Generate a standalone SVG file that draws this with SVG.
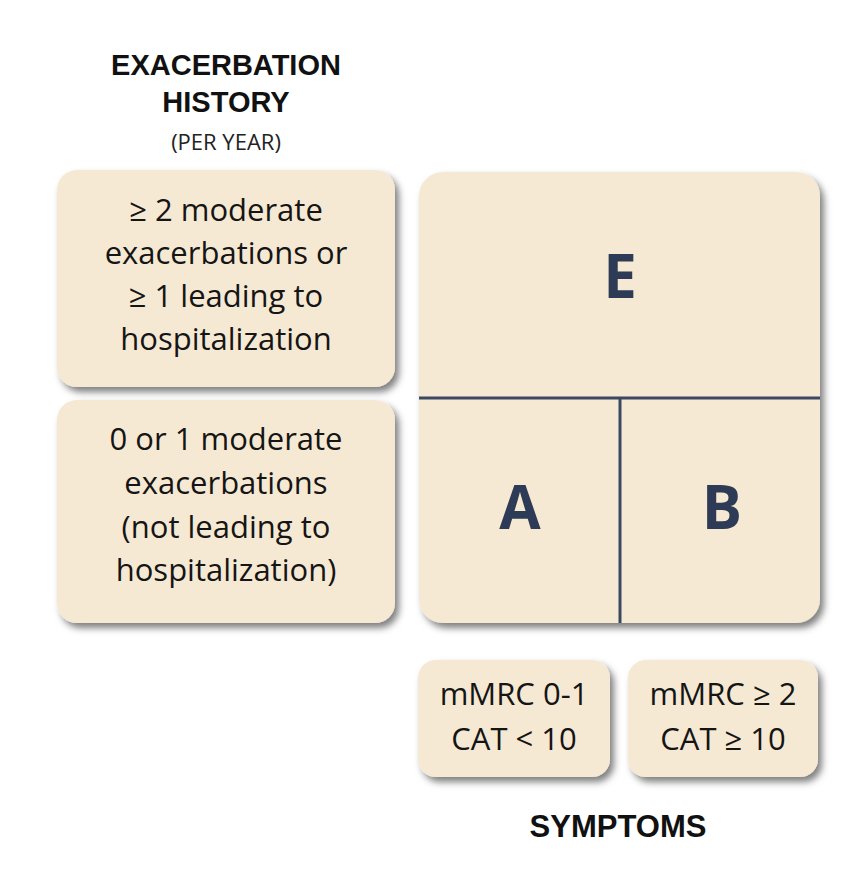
<svg xmlns="http://www.w3.org/2000/svg" width="868" height="880" viewBox="0 0 868 880">
  <defs>
    <filter id="shadow" x="-10%" y="-10%" width="125%" height="130%">
      <feDropShadow dx="4" dy="5" stdDeviation="3.5" flood-color="#000" flood-opacity="0.5"/>
    </filter>
  </defs>
  <style>
    .box { fill: #f6e9d3; filter: url(#shadow); }
    .txt { font-family: "Open Sans", "Liberation Sans", sans-serif; font-size: 31px; fill: #151515; text-anchor: middle; }
    .head { font-family: "Liberation Sans", Arial, sans-serif; font-size: 29px; font-weight: bold; fill: #111; text-anchor: middle; }
    .sub { font-family: "Open Sans", "Liberation Sans", sans-serif; font-size: 22px; fill: #222; text-anchor: middle; }
    .letter { font-family: "Open Sans", "Liberation Sans", sans-serif; font-size: 60px; font-weight: bold; fill: #2e3b56; text-anchor: middle; }
    .div { stroke: #3b4862; stroke-width: 3; fill: none; }
  </style>
  <rect width="868" height="880" fill="#ffffff"/>

  <g id="title-exacerbation">
    <text class="head" x="226" y="75">EXACERBATION</text>
    <text class="head" x="226" y="112">HISTORY</text>
    <text class="sub" x="226" y="150">(PER YEAR)</text>
  </g>

  <g id="node-high-risk">
    <rect class="box" x="57" y="170" width="338" height="217" rx="20"/>
    <text class="txt" x="226" y="221">≥ 2 moderate</text>
    <text class="txt" x="226" y="264">exacerbations or</text>
    <text class="txt" x="226" y="307">≥ 1 leading to</text>
    <text class="txt" x="226" y="350">hospitalization</text>
  </g>

  <g id="node-low-risk">
    <rect class="box" x="57" y="400" width="338" height="223" rx="20"/>
    <text class="txt" x="226" y="450">0 or 1 moderate</text>
    <text class="txt" x="226" y="494">exacerbations</text>
    <text class="txt" x="226" y="538">(not leading to</text>
    <text class="txt" x="226" y="581">hospitalization)</text>
  </g>

  <g id="node-grid">
    <rect class="box" x="419" y="172" width="401" height="451" rx="24"/>
    <line class="div" x1="419" y1="398" x2="820" y2="398"/>
    <line class="div" x1="620" y1="398" x2="620" y2="623"/>
  </g>

  <g id="node-E">
    <text class="letter" x="620" y="298">E</text>
  </g>
  <g id="node-A">
    <text class="letter" x="520" y="529">A</text>
  </g>
  <g id="node-B">
    <text class="letter" x="722" y="529">B</text>
  </g>

  <g id="node-symptoms-low">
    <rect class="box" x="418" y="660" width="192" height="117" rx="18"/>
    <text class="txt" x="514" y="705">mMRC 0-1</text>
    <text class="txt" x="514" y="750">CAT &lt; 10</text>
  </g>

  <g id="node-symptoms-high">
    <rect class="box" x="628" y="660" width="190" height="117" rx="18"/>
    <text class="txt" x="723" y="705">mMRC ≥ 2</text>
    <text class="txt" x="723" y="750">CAT ≥ 10</text>
  </g>

  <g id="title-symptoms">
    <text class="head" x="618" y="837" style="font-size:31px">SYMPTOMS</text>
  </g>
</svg>
